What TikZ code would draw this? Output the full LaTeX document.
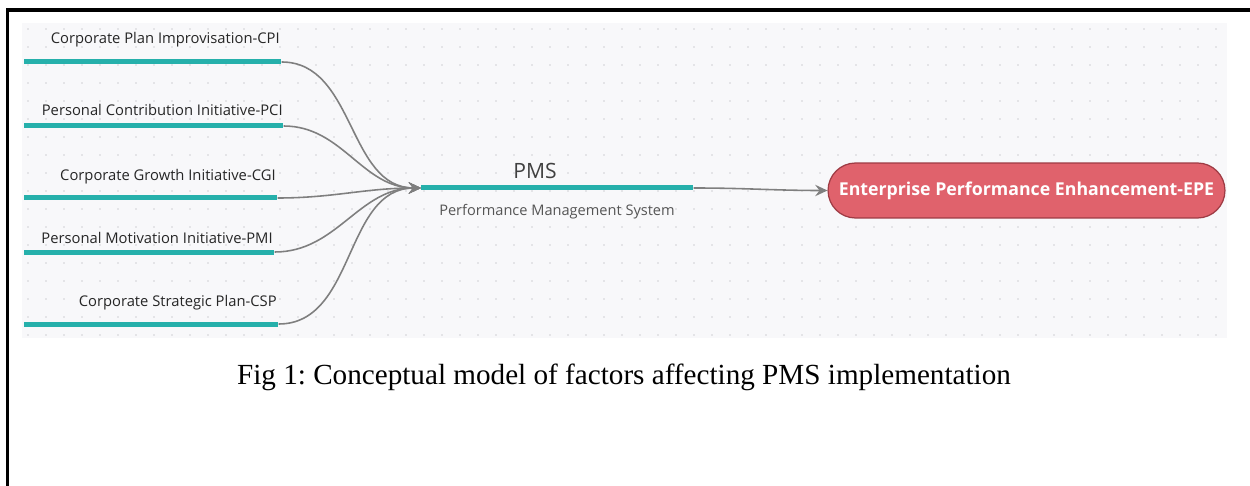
\documentclass[tikz,border=0pt]{standalone}
\usepackage{fontspec}
\setmainfont{Open Sans}
\newfontfamily\capfont{Liberation Serif}
\usetikzlibrary{arrows.meta}
\frenchspacing
\definecolor{barteal}{HTML}{26B0AB}
\definecolor{linkgray}{HTML}{7F7F7F}
\definecolor{panelgray}{HTML}{F8F8FA}
\definecolor{dotgray}{HTML}{D0D0D5}
\definecolor{epered}{HTML}{E0626C}
\definecolor{eperim}{HTML}{9E3B44}
\definecolor{subgray}{HTML}{555555}

\begin{document}
\begin{tikzpicture}[x=0.02cm, y=-0.02cm,
    bar/.style ={rectangle, fill=barteal, inner sep=0pt, minimum height=0.1cm, anchor=west},
    factor/.style ={font=\fontsize{8.4}{10}\selectfont, text=black!85, anchor=base east, inner sep=0pt},
    link/.style ={draw=linkgray, line width=0.9pt, -{Stealth[length=7pt, width=6.5pt, inset=2.5pt]}},
    outcome/.style ={rectangle, rounded corners=0.55cm, fill=epered, draw=eperim, line width=0.7pt,
      minimum width=7.94cm, minimum height=1.1cm, inner sep=0pt, text=white,
      font=\bfseries\fontsize{10.1}{12}\selectfont}]
   \useasboundingbox (0,0) rectangle (1250,486);
   % page frame
   \draw[line width=1.9pt] (6,10) -- (1250,10);
   \draw[line width=1.9pt] (7.7,9) -- (7.7,486);
   % dotted panel
   \fill[panelgray] (22,23) rectangle (1227,338);
   \foreach \x in {28,46,...,1226}
     \foreach \y in {29,47,...,337}
       \fill[dotgray] (\x,\y) circle (0.5pt);

   \node[bar, minimum width=5.14cm] (cpi) at (24,62)  {};
   \node[bar, minimum width=5.18cm] (pci) at (24,126) {};
   \node[bar, minimum width=5.06cm] (cgi) at (24,198) {};
   \node[bar, minimum width=5.0cm]  (pmi) at (24,252) {};
   \node[bar, minimum width=5.08cm] (csp) at (24,324) {};
   \node[bar, minimum width=5.44cm] (pms) at (421,188) {};

   \node[factor] (cpil) at (280,44)  {Corporate Plan Improvisation-CPI};
   \node[factor] (pcil) at (283,116) {Personal Contribution Initiative-PCI};
   \node[factor] (cgil) at (276,181) {Corporate Growth Initiative-CGI};
   \node[factor] (pmil) at (273,243) {Personal Motivation Initiative-PMI};
   \node[factor] (cspl) at (277,306) {Corporate Strategic Plan-CSP};

   \node[font=\fontsize{12}{14}\selectfont, text=black!75, anchor=base] (pmsl) at (535,179) {PMS};
   \node[font=\fontsize{8.3}{10}\selectfont, text=subgray, anchor=base] (pmsd) at (557,215) {Performance Management System};

   \node[outcome] (epe) at (1026.5,190.5) {Enterprise Performance Enhancement-EPE};

   \foreach \src in {cpi,pci,cgi,pmi,csp}
     \draw[link] (\src.east) to[out=0, in=180] (pms.west);
   \draw[link] (pms.east) to[out=0, in=180] (epe.west);

   \node[font=\capfont\fontsize{16.6}{19}\selectfont, anchor=base] (cap) at (624,384)
     {Fig 1: Conceptual model of factors affecting PMS implementation};
 \end{tikzpicture}
\end{document}
